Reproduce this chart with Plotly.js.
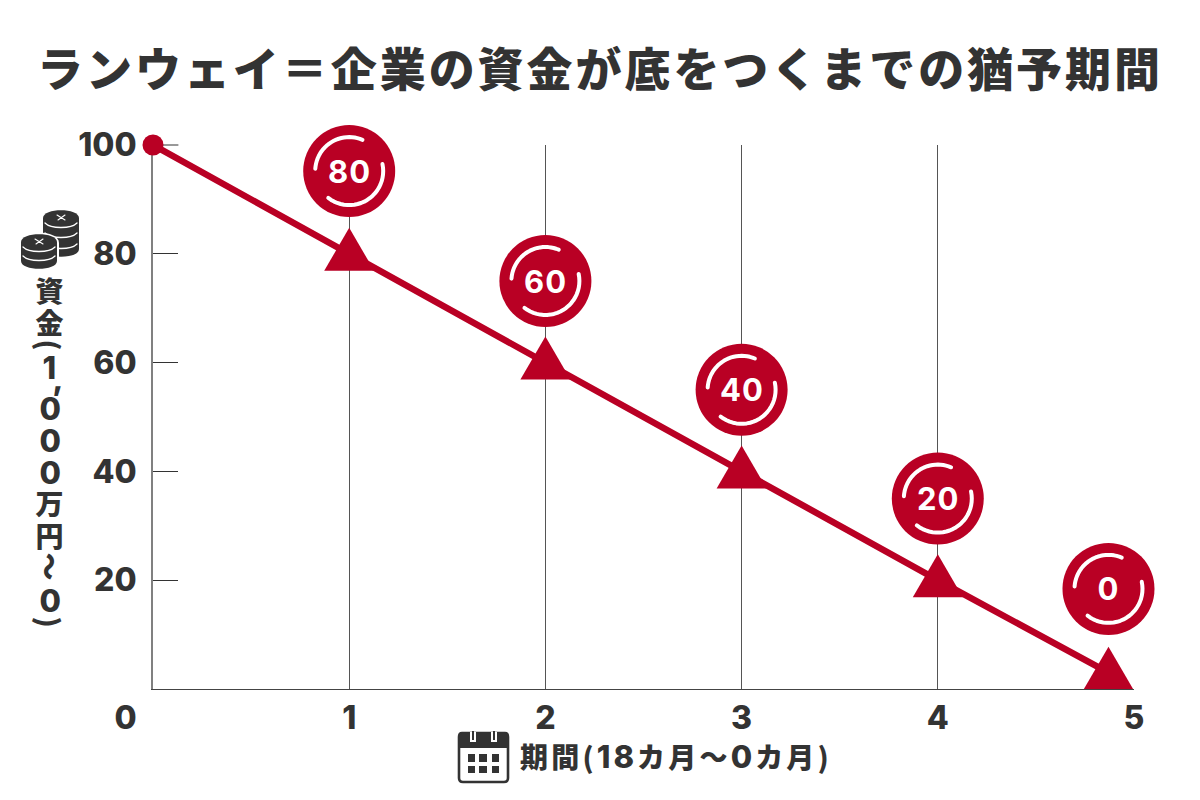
<!DOCTYPE html>
<html><head><meta charset="utf-8">
<script src="https://cdn.plot.ly/plotly-3.0.1.min.js"></script>
<style>
html,body{margin:0;padding:0;background:#fff;overflow:hidden}
.gtitle{letter-spacing:2.95px}
.annotation text{letter-spacing:1px}
.shapelayer path{stroke-linecap:round;stroke-linejoin:round}
</style></head><body><div id="chart" style="width:1200px;height:800px"></div>
<script>
const lineX = [0, 1, 2, 3, 4, 4.87];
const lineY = [100, 80, 60, 40, 20, 3];
const pointX = [1, 2, 3, 4, 4.87];
const pointY = [80, 60, 40, 20, 3];
const badgeX = [1, 2, 3, 4, 4.87];
const badgeY = [95.2, 75, 55, 35, 18.4];
const badgeLabels = ['80', '60', '40', '20', '0'];
const yTicks = [20, 40, 60, 80, 100];
const xTicks = [1, 2, 3, 4, 5];
const xMax = 5, yMax = 100;
const titleText = 'ランウェイ＝企業の資金が底をつくまでの猶予期間';
const xTitleParts = ['期間(', '18', 'カ月〜', '0', 'カ月)'];
const yTitleChars = ['資','金','(','1',',','0','0','0','万','円','〜','0',')'];
const yTitlePx = [290,322,345,367,378,408,440,472,503,535,567,600,622];

const RED = '#b90024', INK = '#333333';
const LATIN = 'Inter, "Noto Sans CJK JP", sans-serif';
const CJK = '"Noto Sans CJK JP", sans-serif';
const L = 153, R = 1134, T = 145, B = 689;
const px = v => (v - L) / (R - L), py = v => (B - v) / (B - T);

function arc(a0, a1, r) {
  const n = 24; let d = '';
  for (let i = 0; i <= n; i++) {
    const a = (a0 + (a1 - a0) * i / n) * Math.PI / 180;
    d += (i ? 'L' : 'M') + (r * Math.cos(a)).toFixed(2) + ',' + (r * Math.sin(a)).toFixed(2);
  }
  return d;
}
const shapes = [];
// tick at the top of the axis (Plotly drops inside ticks at the range end)
shapes.push({type:'line', xref:'paper', yref:'paper', xsizemode:'pixel', xanchor:0, x0:0, x1:25, y0:1, y1:1,
  line:{color:'#333', width:1}, layer:'below'});
pointX.forEach((x, i) => shapes.push({type:'path', xref:'x', yref:'y', xsizemode:'pixel', ysizemode:'pixel',
  xanchor:x, yanchor:pointY[i], path:'M-25,-17L25,-17L0,26Z', fillcolor:RED, line:{width:0}, layer:'above'}));
badgeX.forEach((x, i) => {
  [[176, 67], [12, -128]].forEach(a => shapes.push({type:'path', xref:'paper', yref:'paper', xsizemode:'pixel', ysizemode:'pixel',
    xanchor:x / xMax, yanchor:badgeY[i] / yMax, path:arc(a[0], a[1], 34), line:{color:'#fff', width:4}, layer:'above'}));
});

const P = (x, y) => px(x).toFixed(5) + ',' + py(y).toFixed(5);
const icon = (path, fill, color, width) => shapes.push({type:'path', xref:'paper', yref:'paper', path,
  fillcolor:fill, line:{color:color||fill||'rgba(0,0,0,0)', width:width||0}, layer:'above'});
function stack(cx, top, bottom, rx, ry, lines) {
  icon('M'+P(cx-rx,top)+'C'+P(cx-rx,top-ry*1.3)+' '+P(cx+rx,top-ry*1.3)+' '+P(cx+rx,top)+
       'L'+P(cx+rx,bottom-ry)+'C'+P(cx+rx,bottom+ry*.3)+' '+P(cx-rx,bottom+ry*.3)+' '+P(cx-rx,bottom-ry)+'Z', INK);
  lines.forEach(y => icon('M'+P(cx-rx+2,y)+'C'+P(cx-rx+8,y+6)+' '+P(cx+rx-8,y+6)+' '+P(cx+rx-2,y), 'rgba(0,0,0,0)', '#fff', 1.3));
  icon('M'+P(cx-4,top-3)+'L'+P(cx+4,top+2)+'M'+P(cx+4,top-3)+'L'+P(cx-3,top+2), 'rgba(0,0,0,0)', '#fff', 1.1);
}
stack(61, 218, 257, 18, 8, [223, 233, 244]);
icon('M'+P(19,243)+'C'+P(19,229)+' '+P(59,229)+' '+P(59,243)+'L'+P(59,260)+'C'+P(59,272)+' '+P(19,272)+' '+P(19,260)+'Z', '#fff');
stack(39, 242, 269, 18, 8, [247, 256]);
icon('M'+P(462,733)+'L'+P(505,733)+'C'+P(507.5,733)+' '+P(508,735)+' '+P(508,737)+'L'+P(508,778)+'C'+P(508,781)+' '+P(506,782)+' '+P(504,782)+
     'L'+P(463,782)+'C'+P(460,782)+' '+P(459,780)+' '+P(459,778)+'L'+P(459,737)+'C'+P(459,735)+' '+P(460,733)+' '+P(462,733)+'Z', '#fff', INK, 2.6);
icon('M'+P(459,737)+'C'+P(459,734)+' '+P(461,733)+' '+P(463,733)+'L'+P(504,733)+'C'+P(507,733)+' '+P(508,735)+' '+P(508,737)+'L'+P(508,748)+'L'+P(459,748)+'Z', INK);
[473, 494].forEach(x => {
  icon('M'+P(x-3,732)+'L'+P(x+3,732)+'L'+P(x+3,742)+'L'+P(x-3,742)+'Z', '#fff');
  icon('M'+P(x-1,731)+'L'+P(x+1,731)+'L'+P(x+1,740)+'L'+P(x-1,740)+'Z', INK);
});
[[754,762],[766,773]].forEach(r => [[468,475],[479,487],[492,499]].forEach(c =>
  icon('M'+P(c[0],r[0])+'L'+P(c[1],r[0])+'L'+P(c[1],r[1])+'L'+P(c[0],r[1])+'Z', INK)));

const annotations = [
  {xref:'x', yref:'y', x:0, y:0, xshift:-27, yshift:-28, text:'0', showarrow:false,
   xanchor:'center', yanchor:'middle', font:{family:LATIN, size:32, color:INK, weight:800}}
];
const xTitleMarkup = xTitleParts.map(s => /[0-9]/.test(s)
  ? '<span style="font-family:Inter;font-size:31px;font-weight:800;letter-spacing:3px">' + s + '</span>'
  : '<span style="letter-spacing:3.2px">' + s + '</span>').join('');
annotations.push({xref:'paper', yref:'paper', x:px(676), y:py(756), text:xTitleMarkup, showarrow:false,
  xanchor:'center', yanchor:'middle', font:{family:CJK, size:28, color:INK, weight:900}});
badgeX.forEach((x, i) => annotations.push({xref:'x', yref:'y', x, y:badgeY[i], text:badgeLabels[i], showarrow:false,
  xanchor:'center', yanchor:'middle', font:{family:LATIN, size:31, color:'#fff', weight:700}}));
yTitleChars.forEach((c, i) => {
  const rot = c === '(' || c === ')' || c === '〜';
  const comma = c === ',';
  annotations.push({xref:'paper', yref:'paper', x:px(comma ? 58 : 50), y:py(yTitlePx[i]), text:c, showarrow:false,
    xanchor:'center', yanchor:'middle', textangle: rot ? 90 : 0,
    font:{family:/[資金万円〜()]/.test(c) ? CJK : LATIN, size: /[0-9,]/.test(c) ? 31 : 28, color:INK, weight:/[資金万円]/.test(c) ? 900 : 800}});
});

const traces = [
  {x:lineX, y:lineY, type:'scatter', mode:'lines', line:{color:RED, width:6.5}, cliponaxis:false, hoverinfo:'skip'},
  {x:[lineX[0]], y:[lineY[0]], type:'scatter', mode:'markers', marker:{color:RED, size:21}, cliponaxis:false},
  {x:pointX, y:pointY, type:'scatter', mode:'markers', marker:{color:RED, size:30, symbol:'triangle-up'}, cliponaxis:false},
  {x:badgeX, y:badgeY, type:'scatter', mode:'markers', marker:{color:RED, size:92}, cliponaxis:false}
];
const layout = {
  width:1200, height:800, showlegend:false, paper_bgcolor:'#fff', plot_bgcolor:'#fff',
  margin:{l:L, r:1200-R, t:T, b:800-B, pad:0},
  title:{text:titleText, x:0.5, xref:'container', y:0.913, yref:'container', xanchor:'center', yanchor:'middle',
    font:{family:CJK, size:46, color:INK, weight:900}},
  xaxis:{range:[0,xMax], tickmode:'array', tickvals:xTicks, ticktext:xTicks.map(String), showgrid:true, gridcolor:'#555', gridwidth:1,
    zeroline:false, showline:true, linecolor:'#444', linewidth:1.2, ticks:'', ticklabelstandoff:0, layer:'below traces',
    tickfont:{family:LATIN, size:32, color:INK, weight:800}},
  yaxis:{range:[0,yMax], tickmode:'array', tickvals:yTicks, ticktext:yTicks.map(String), showgrid:false,
    zeroline:false, showline:true, linecolor:'#808080', linewidth:2, ticks:'inside', ticklen:25, tickwidth:1, tickcolor:'#333',
    ticklabelstandoff:8, layer:'below traces', tickfont:{family:LATIN, size:32, color:INK, weight:800}},
  shapes, annotations
};
Plotly.newPlot('chart', traces, layout, {displayModeBar:false, staticPlot:true});
</script></body></html>
